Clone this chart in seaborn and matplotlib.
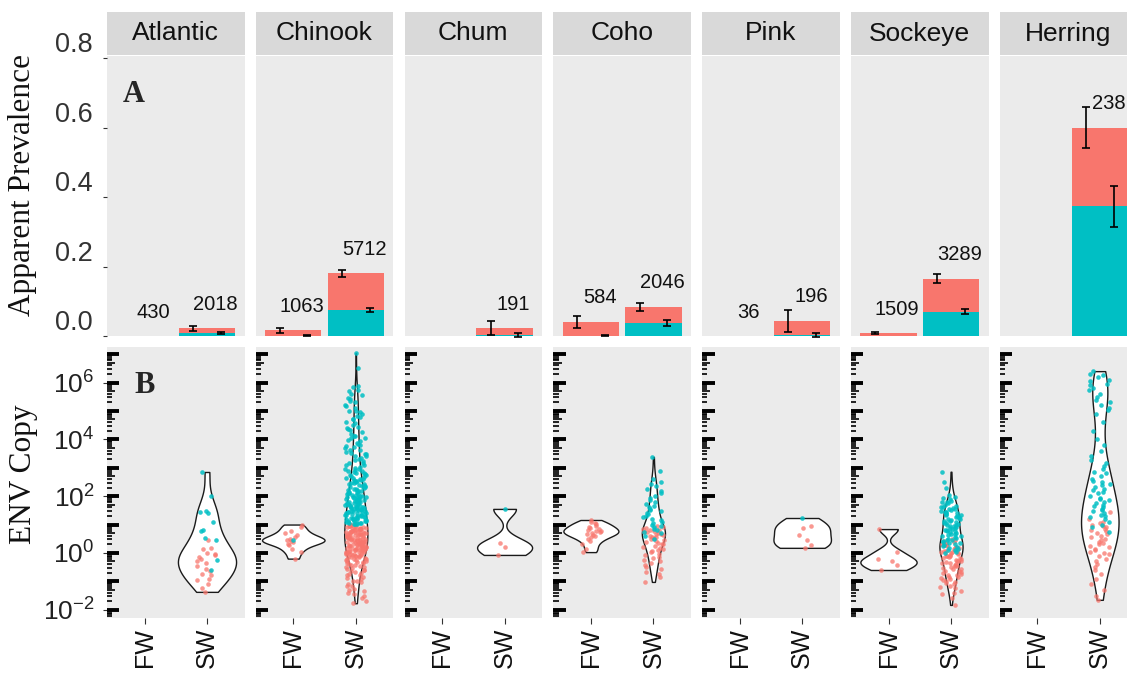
import numpy as np
import matplotlib
matplotlib.use("Agg")
import matplotlib.pyplot as plt
import matplotlib.transforms as mtransforms
from matplotlib.ticker import NullLocator, FixedLocator
import seaborn as sns

# ---- data ----
species = ["Atlantic", "Chinook", "Chum", "Coho", "Pink", "Sockeye", "Herring"]
groups = ["FW", "SW"]

# sample sizes printed above the bars (None = no label)
n_fw = [430, 1063, None, 584, 36, 1509, None]
n_sw = [2018, 5712, 191, 2046, 196, 3289, 238]

# apparent prevalence: total (red) and subset (teal) with error half-widths
prev_fw = [0.0, 0.017, 0.0, 0.041, 0.0, 0.008, 0.0]
prev_sw = [0.022, 0.180, 0.023, 0.084, 0.044, 0.165, 0.600]
err_fw = [0.0, 0.007, 0.0, 0.017, 0.0, 0.003, 0.0]
err_sw = [0.008, 0.010, 0.019, 0.012, 0.032, 0.013, 0.060]
sub_fw = [0.0, 0.001, 0.0, 0.001, 0.0, 0.0, 0.0]
sub_sw = [0.008, 0.075, 0.003, 0.037, 0.003, 0.070, 0.373]
sub_err_fw = [0.0, 0.002, 0.0, 0.002, 0.0, 0.0, 0.0]
sub_err_sw = [0.003, 0.007, 0.005, 0.009, 0.006, 0.008, 0.060]

# ENV copy numbers, given as log10 values
atlantic_sw_teal = [2.85, 2.0, 1.48, 1.45, 1.41, 1.1, 0.82, 0.77, 0.52, 0.46, -0.25, -0.6]
atlantic_sw_red = [0.46, 0.18, 0.13, 0.01, -0.04, -0.08, -0.13, -0.2, -0.29, -0.34,
                   -0.45, -0.58, -0.63, -0.74, -0.79, -0.9, -0.96, -1.1, -1.25, -1.37]

chinook_fw_teal = [0.45]
chinook_fw_red = [1.0, 0.92, 0.78, 0.71, 0.62, 0.56, 0.5, 0.47, 0.42, 0.38, 0.33, 0.27,
                  0.15, 0.02, -0.2]
chinook_sw_teal = [7.04, 6.5, 5.88, 5.83, 5.74, 5.69, 5.6, 5.57, 5.47, 5.43, 5.35, 5.3,
                   5.2, 5.16, 5.1, 5.01, 4.97, 4.89, 4.82, 4.77, 4.7, 4.61, 4.58, 4.5,
                   4.45, 4.38, 4.32, 4.25, 4.2, 4.13, 4.06, 4.03, 3.96, 3.94, 3.87, 3.85,
                   3.78, 3.73, 3.7, 3.64, 3.61, 3.57, 3.51, 3.48, 3.42, 3.4, 3.34, 3.32,
                   3.26, 3.23, 3.17, 3.15, 3.1, 3.08, 3.02, 2.99, 2.97, 2.92, 2.9, 2.88,
                   2.83, 2.81, 2.77, 2.75, 2.71, 2.69, 2.65, 2.63, 2.6, 2.57, 2.56, 2.52,
                   2.5, 2.47, 2.45, 2.42, 2.4, 2.37, 2.36, 2.32, 2.31, 2.28, 2.25, 2.23,
                   2.21, 2.18, 2.16, 2.13, 2.11, 2.09, 2.06, 2.05, 2.02, 2.0, 1.98, 1.96,
                   1.95, 1.92, 1.91, 1.88, 1.87, 1.85, 1.83, 1.81, 1.8, 1.77, 1.76, 1.74,
                   1.72, 1.7, 1.69, 1.66, 1.65, 1.63, 1.61, 1.6, 1.58, 1.56, 1.54, 1.53,
                   1.51, 1.49, 1.47, 1.46, 1.44, 1.42, 1.41, 1.39, 1.37, 1.35, 1.34, 1.32,
                   1.3, 1.29, 1.27, 1.25, 1.23, 1.22, 1.2, 1.18, 1.17, 1.15, 1.13, 1.12,
                   1.1, 1.09, 1.07, 1.05, 1.04, 1.02, 1.01,
                   2.95, 2.85, 2.74, 2.62, 2.54, 2.43, 2.34, 2.26, 2.19, 2.1, 2.03, 1.97,
                   1.93, 1.89, 1.84, 1.79, 1.75, 1.71, 1.67, 1.62, 1.57, 1.52, 1.48, 1.43,
                   1.38, 1.33, 1.28, 1.24, 1.19, 1.14, 1.11, 1.06, 1.03, 3.5, 3.8, 4.1,
                   4.4, 4.7, 5.0]
chinook_sw_red = [1.0, 0.99, 0.97, 0.96, 0.95, 0.93, 0.92, 0.9, 0.89, 0.88, 0.86, 0.85,
                  0.83, 0.82, 0.81, 0.79, 0.78, 0.76, 0.75, 0.74, 0.72, 0.71, 0.69, 0.68,
                  0.67, 0.65, 0.64, 0.62, 0.61, 0.6, 0.58, 0.57, 0.55, 0.54, 0.53, 0.51,
                  0.5, 0.48, 0.47, 0.46, 0.44, 0.43, 0.41, 0.4, 0.38, 0.37, 0.36, 0.34,
                  0.33, 0.31, 0.3, 0.28, 0.27, 0.26, 0.24, 0.23, 0.21, 0.2, 0.18, 0.17,
                  0.15, 0.14, 0.12, 0.11, 0.09, 0.08, 0.06, 0.05, 0.03, 0.02, 0.0, -0.02,
                  -0.03, -0.05, -0.07, -0.09, -0.11, -0.13, -0.15, -0.17, -0.2, -0.22,
                  -0.25, -0.27, -0.3, -0.33, -0.36, -0.39, -0.42, -0.45, -0.49, -0.52,
                  -0.56, -0.6, -0.64, -0.69, -0.73, -0.78, -0.84, -0.9, -0.97, -1.03,
                  -1.1, -1.18, -1.27, -1.33, -1.42, -1.5, -1.6, -1.68, -1.77,
                  0.98, 0.94, 0.91, 0.87, 0.84, 0.8, 0.77, 0.73, 0.7, 0.66, 0.63, 0.59,
                  0.56, 0.52, 0.49, 0.45, 0.42, 0.39, 0.35, 0.32, 0.29, 0.25, 0.22, 0.19,
                  0.16, 0.13, 0.1, 0.07, 0.04, 0.01, -0.04, -0.08, -0.12, -0.16, -0.21,
                  -0.26, -0.31, -0.37, -0.44, -0.51, -0.59, -0.67, -0.76, -0.87, -1.0,
                  -1.15, -1.3, -1.45]

chum_sw_teal = [1.55]
chum_sw_red = [0.35, 0.21, -0.07]

coho_fw_red = [1.16, 1.1, 1.04, 1.01, 0.96, 0.91, 0.88, 0.85, 0.81, 0.78, 0.76, 0.72,
               0.7, 0.67, 0.64, 0.6, 0.55, 0.49, 0.41, 0.3, 0.15, 0.03]
coho_sw_teal = [3.38, 2.9, 2.62, 2.5, 2.44, 2.36, 2.26, 2.19, 2.1, 2.02, 1.95, 1.86,
                1.8, 1.71, 1.66, 1.6, 1.54, 1.5, 1.46, 1.4, 1.36, 1.3, 1.26, 1.21,
                1.15, 1.1, 1.06, 1.0, 0.96, 0.9, 0.86, 0.8, 0.74, 0.7, 0.61, 0.5]
coho_sw_red = [0.95, 0.91, 0.88, 0.85, 0.82, 0.8, 0.77, 0.75, 0.72, 0.7, 0.68, 0.65,
               0.62, 0.6, 0.57, 0.55, 0.52, 0.5, 0.46, 0.43, 0.4, 0.36, 0.33, 0.3,
               0.26, 0.22, 0.18, 0.14, 0.1, 0.06, 0.02, -0.03, -0.08, -0.13, -0.18,
               -0.24, -0.3, -0.36, -0.42, -0.5, -0.58, -0.66, -0.75, -0.85, -1.02]

pink_sw_teal = [1.23]
pink_sw_red = [0.95, 0.88, 0.64, 0.46, 0.28, 0.18]

sockeye_fw_red = [0.84, 0.05, -0.2, -0.3, -0.42, -0.6]
sockeye_sw_teal = [2.86, 2.5, 2.3, 2.05, 1.96, 1.9, 1.84, 1.8, 1.76, 1.7, 1.66, 1.61,
                   1.58, 1.55, 1.51, 1.48, 1.45, 1.43, 1.39, 1.36, 1.34, 1.3, 1.27, 1.25,
                   1.21, 1.18, 1.16, 1.12, 1.09, 1.07, 1.03, 1.0, 0.98, 0.94, 0.91, 0.89,
                   0.85, 0.82, 0.8, 0.76, 0.73, 0.7, 0.66, 0.63, 0.58, 0.55, 0.5, 0.46,
                   0.42, 0.37, 0.34, 0.3, 0.25, 0.21, 0.15, 0.1, 0.05, 0.0,
                   1.93, 1.78, 1.63, 1.53, 1.41, 1.32, 1.23, 1.14, 1.05, 0.96, 0.87, 0.78,
                   0.68, 0.6, 0.52, 0.44, 0.36, 0.28, 0.19, 0.12]
sockeye_sw_red = [0.5, 0.45, 0.41, 0.36, 0.33, 0.3, 0.27, 0.24, 0.22, 0.19, 0.16, 0.13,
                  0.11, 0.08, 0.05, 0.03, 0.0, -0.03, -0.06, -0.09, -0.12, -0.15, -0.18,
                  -0.21, -0.24, -0.27, -0.3, -0.33, -0.36, -0.39, -0.42, -0.46, -0.5,
                  -0.54, -0.58, -0.62, -0.66, -0.7, -0.74, -0.78, -0.83, -0.88, -0.93,
                  -0.98, -1.04, -1.1, -1.17, -1.25, -1.35, -1.45, -1.6, -1.83,
                  0.38, 0.28, 0.17, 0.07, -0.01, -0.1, -0.19, -0.28, -0.37, -0.47, -0.56,
                  -0.65, -0.76, -0.86, -0.96, -1.07, -1.2, -1.4]

herring_sw_teal = [6.4, 6.31, 6.25, 6.18, 6.1, 6.04, 5.96, 5.9, 5.8, 5.74, 5.6, 5.5,
                   5.4, 5.3, 5.22, 5.1, 5.02, 4.9, 4.6, 4.3, 4.0, 3.8, 3.6, 3.42, 3.26,
                   3.15, 3.05, 2.96, 2.86, 2.8, 2.7, 2.61, 2.55, 2.5, 2.44, 2.4, 2.31,
                   2.25, 2.2, 2.15, 2.1, 2.01, 1.95, 1.9, 1.85, 1.8, 1.75, 1.7, 1.64,
                   1.6, 1.55, 1.5, 1.46, 1.4, 1.35, 1.3, 1.25, 1.2, 1.1, 1.0, 0.9, 0.75]
herring_sw_red = [1.45, 1.2, 1.1, 1.05, 1.0, 0.95, 0.9, 0.86, 0.8, 0.76, 0.7, 0.65,
                  0.6, 0.55, 0.5, 0.45, 0.4, 0.35, 0.3, 0.25, 0.2, 0.15, 0.1, 0.05,
                  0.0, -0.05, -0.1, -0.2, -0.3, -0.4, -0.5, -0.6, -0.75, -0.9, -1.1,
                  -1.3, -1.5, -1.65]

# (red, teal) per species for FW and SW
env_fw = [([], []), (chinook_fw_red, chinook_fw_teal), ([], []), (coho_fw_red, []),
          ([], []), (sockeye_fw_red, []), ([], [])]
env_sw = [(atlantic_sw_red, atlantic_sw_teal), (chinook_sw_red, chinook_sw_teal),
          (chum_sw_red, chum_sw_teal), (coho_sw_red, coho_sw_teal),
          (pink_sw_red, pink_sw_teal), (sockeye_sw_red, sockeye_sw_teal),
          (herring_sw_red, herring_sw_teal)]

# ---- styling ----
RED = "#F8766D"
TEAL = "#00BFC4"
PANEL = "#EBEBEB"
STRIP = "#D9D9D9"
violin_w_fw = [0, 1.0, 0, 0.88, 0, 0.9, 0]
violin_w_sw = [0.93, 0.37, 0.88, 0.37, 0.92, 0.37, 0.6]

sns.set_theme(style="white")
plt.rcParams["font.family"] = ["Liberation Sans", "DejaVu Sans"]
plt.rcParams["mathtext.fontset"] = "custom"
plt.rcParams["mathtext.rm"] = "Liberation Sans"
plt.rcParams["mathtext.default"] = "regular"

W, H = 1127, 675
fig = plt.figure(figsize=(W / 100, H / 100), dpi=100)
fig.patch.set_facecolor("white")


def box(left, top, w, h):
    return [left / W, 1 - (top + h) / H, w / W, h / H]


def nrd0_factor(x):
    # R's bw.nrd0 expressed as a scipy gaussian_kde factor
    x = np.asarray(x, dtype=float)
    sd = x.std(ddof=1)
    iqr = np.subtract(*np.percentile(x, [75, 25]))
    lo = min(sd, iqr / 1.34) if iqr > 0 else sd
    return 0.9 * lo * len(x) ** -0.2 / sd


def clean(ax):
    for s in ax.spines.values():
        s.set_visible(False)
    ax.set_xlabel("")
    ax.set_ylabel("")
    ax.grid(False)


ylo, yhi = 10 ** -2.29, 10 ** 7.25
np.random.seed(3)

for i, sp in enumerate(species):
    left = 107 + i * 148.8

    # facet strip
    sax = fig.add_axes(box(left, 12, 137.5, 43))
    sax.set_facecolor(STRIP)
    sax.set_xticks([])
    sax.set_yticks([])
    clean(sax)
    sax.text(0.5, 0.5, sp, ha="center", va="center", fontsize=19, color="#111111",
             transform=sax.transAxes)

    # ---- A: prevalence bars ----
    ax = fig.add_axes(box(left, 56, 137.5, 280))
    ax.set_facecolor(PANEL)
    sns.barplot(x=groups, y=[prev_fw[i], prev_sw[i]], order=groups, color=RED,
                saturation=1, width=0.9, errorbar=None, linewidth=0, ax=ax)
    sns.barplot(x=groups, y=[sub_fw[i], sub_sw[i]], order=groups, color=TEAL,
                saturation=1, width=0.9, errorbar=None, linewidth=0, ax=ax)
    tots = [prev_fw[i], prev_sw[i]]
    errs = [err_fw[i], err_sw[i]]
    subs = [sub_fw[i], sub_sw[i]]
    serrs = [sub_err_fw[i], sub_err_sw[i]]
    ns = [n_fw[i], n_sw[i]]
    for j in range(2):
        if errs[j] > 0:
            ax.errorbar(j - 0.22, tots[j], yerr=errs[j], fmt="none", ecolor="black",
                        elinewidth=1.2, capsize=3, capthick=1.2, clip_on=False)
        if serrs[j] > 0:
            ax.errorbar(j + 0.22, subs[j], yerr=serrs[j], fmt="none", ecolor="black",
                        elinewidth=1.2, capsize=3, capthick=1.2, clip_on=False)
        if ns[j] is not None:
            ax.text(j + 0.14, tots[j] + 0.069, str(ns[j]), ha="center", va="center",
                    fontsize=14.5, color="#111111")
    ax.set_xlim(-0.6, 1.6)
    ax.set_ylim(0, 0.806)
    ax.set_xticks([])
    clean(ax)
    if i == 0:
        ax.set_yticks([0.0, 0.2, 0.4, 0.6, 0.8])
        ax.set_yticklabels(["0.0", "0.2", "0.4", "0.6", "0.8"])
        ax.tick_params(axis="y", length=3, width=0.8, color="#333333", pad=7,
                       labelsize=19.5, labelcolor="#333333", left=True)
        shift = mtransforms.ScaledTranslation(0, 16 / 100, fig.dpi_scale_trans)
        for lab in ax.get_yticklabels():
            lab.set_transform(lab.get_transform() + shift)
    else:
        ax.set_yticks([])

    # ---- B: ENV copy violins ----
    bx = fig.add_axes(box(left, 347, 137.5, 271))
    bx.set_facecolor(PANEL)
    for j, (grp, (red, teal), w) in enumerate(zip(groups, [env_fw[i], env_sw[i]],
                                                    [violin_w_fw[i], violin_w_sw[i]])):
        allv = list(red) + list(teal)
        if len(allv) < 2:
            continue
        sns.violinplot(x=[grp] * len(allv), y=10 ** np.array(allv), order=groups,
                       log_scale=True, cut=0, inner=None, color="white",
                       linecolor="#1a1a1a", linewidth=1.0, density_norm="width",
                       width=w, bw_method=nrd0_factor(allv), saturation=1, ax=bx)
        if len(red):
            sns.stripplot(x=[grp] * len(red), y=10 ** np.array(red), order=groups,
                          color=RED, size=3.3, alpha=0.75, jitter=0.17, linewidth=0,
                          log_scale=True, ax=bx)
        if len(teal):
            sns.stripplot(x=[grp] * len(teal), y=10 ** np.array(teal), order=groups,
                          color=TEAL, size=3.3, alpha=0.85, jitter=0.17, linewidth=0,
                          log_scale=True, ax=bx)
    bx.set_yscale("log")
    bx.set_xlim(-0.6, 1.6)
    bx.set_ylim(ylo, yhi)
    clean(bx)

    # log tick rug along the left edge
    ytr = bx.get_yaxis_transform()
    for k in range(-3, 8):
        for m in range(1, 10):
            v = m * 10.0 ** k
            if ylo <= v <= yhi:
                L = 0.09 if m == 1 else (0.06 if m == 5 else 0.038)
                bx.plot([0, L], [v, v], transform=ytr, color="black",
                        lw=2.8 if m == 1 else 1.2, solid_capstyle="butt", zorder=1)

    bx.set_xticks([0, 1])
    bx.set_xticklabels(groups, rotation=90, fontsize=18, color="#111111")
    bx.tick_params(axis="x", length=4, width=0.8, color="#333333", pad=3, bottom=True)
    bx.yaxis.set_minor_locator(NullLocator())
    if i == 0:
        bx.yaxis.set_major_locator(FixedLocator([1e-2, 1e0, 1e2, 1e4, 1e6]))
        bx.set_yticklabels([r"$\mathregular{10^{-2}}$", r"$\mathregular{10^{0}}$",
                            r"$\mathregular{10^{2}}$", r"$\mathregular{10^{4}}$",
                            r"$\mathregular{10^{6}}$"])
        bx.tick_params(axis="y", length=3, width=0.8, color="#333333", pad=6,
                       labelsize=19, labelcolor="#222222", left=True)
    else:
        bx.yaxis.set_major_locator(NullLocator())

fig.text(23 / W, 1 - 185 / H, "Apparent Prevalence", rotation=90, ha="center",
         va="center", fontsize=22.5, family="Liberation Serif", color="#111111")
fig.text(24 / W, 1 - 474 / H, "ENV Copy", rotation=90, ha="center", va="center",
         fontsize=22.5, family="Liberation Serif", color="#111111")
fig.text(134 / W, 1 - 95 / H, "A", ha="center", va="center", fontsize=22,
         fontweight="bold", family="Liberation Serif")
fig.text(145 / W, 1 - 385 / H, "B", ha="center", va="center", fontsize=22,
         fontweight="bold", family="Liberation Serif")

fig.savefig("out.png", dpi=100)
